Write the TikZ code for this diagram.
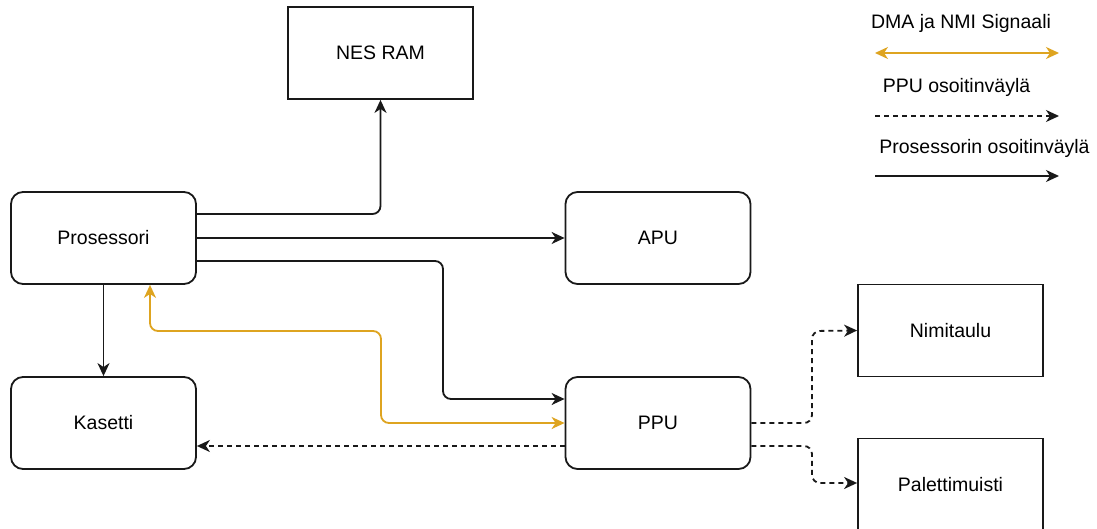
\documentclass[tikz,border=0pt]{standalone}
\usepackage{fontspec}
\setmainfont{Liberation Sans}
\usetikzlibrary{arrows.meta}
\definecolor{dmaorange}{RGB}{222,164,32}
\definecolor{lineblack}{RGB}{25,25,25}
\tikzset{
  box/.style={draw=lineblack, line width=1.8pt, fill=white, inner sep=0pt,
    minimum width=185pt, minimum height=92pt, font=\fontsize{19.5}{23}\selectfont},
  rbox/.style={box, rounded corners=12pt},
  tip/.style={-{Stealth[length=13pt,width=12pt,inset=4pt]}},
  bus/.style={draw=lineblack, line width=1.8pt, rounded corners=8pt, tip},
  ppubus/.style={bus, dash pattern=on 5pt off 4pt},
  dmabus/.style={draw=dmaorange, line width=1.8pt, rounded corners=8pt,
    {Stealth[length=13pt,width=12pt,inset=4pt]}-{Stealth[length=13pt,width=12pt,inset=4pt]}},
  legendtext/.style={font=\fontsize{19.5}{23}\selectfont, anchor=base, inner sep=0pt}
}
\begin{document}
\begin{tikzpicture}[x=1pt,y=1pt]
\useasboundingbox[fill=white] (0,0) rectangle (1097,-529);

\node[box]  (ram) at (380.5,-53)   {NES RAM};
\node[rbox] (p)   at (103.5,-238) {Prosessori};
\node[rbox] (apu) at (658,-238)    {APU};
\node[rbox] (k)   at (103.5,-423) {Kasetti};
\node[rbox] (ppu) at (658,-423)    {PPU};
\node[box]  (nim) at (950.5,-330.5) {Nimitaulu};
\node[box]  (pal) at (950.5,-484.5) {Palettimuisti};

% processor bus
\draw[bus] (p.east |- 0,-214) -| (ram.south);
\draw[bus] (p.east) -- (apu.west);
\draw[bus] (p.east |- 0,-261) -- (443,-261) -- (443,-399) -- (ppu.west |- 0,-399);
\draw[bus] (p.south) -- (k.north);

% DMA / NMI
\draw[dmabus] (ppu.west) -- (381,-423) -- (381,-331) -- (150,-331) -- (150,-238 |- p.south);

% PPU bus
\draw[ppubus] (ppu.west |- 0,-446) -- (k.east |- 0,-446);
\draw[ppubus] (ppu.east) -- (812,-423) -- (812,-331) -- (nim.west);
\draw[ppubus] (ppu.east |- 0,-446) -- (812,-446) -- (812,-483) -- (pal.west |- 0,-483);

% legend
\node[legendtext] (l1) at (961,-29) {DMA ja NMI Signaali};
\coordinate (l1a) at (875,-53);
\coordinate (l1b) at (1059,-53);
\draw[dmabus, rounded corners=0pt] (l1a) -- (l1b);

\node[legendtext] (l2) at (956.5,-93) {PPU osoitinväylä};
\coordinate (l2a) at (875,-116);
\coordinate (l2b) at (1059,-116);
\draw[ppubus] (l2a) -- (l2b);

\node[legendtext] (l3) at (984.5,-154) {Prosessorin osoitinväylä};
\coordinate (l3a) at (875,-176);
\coordinate (l3b) at (1059,-176);
\draw[bus] (l3a) -- (l3b);
\end{tikzpicture}
\end{document}
